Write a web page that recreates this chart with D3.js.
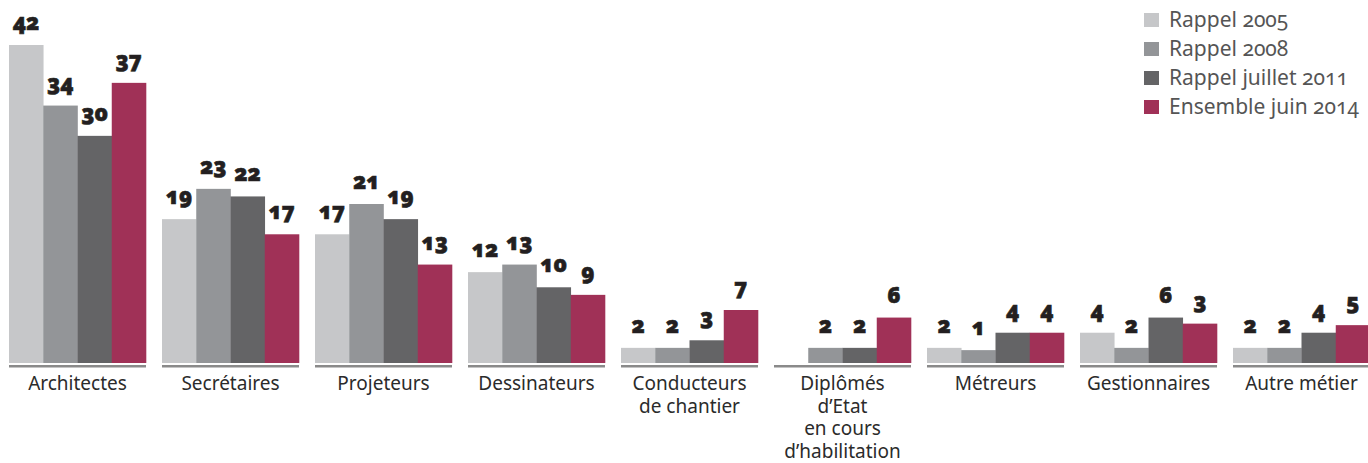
<!DOCTYPE html>
<html><head><meta charset="utf-8">
<script src="https://cdn.jsdelivr.net/npm/d3@7"></script>
<style>
html,body{margin:0;padding:0;background:#fff;}
svg{display:block;}
.val{font-family:"Noto Sans",Lato,sans-serif;font-weight:900;font-size:22px;fill:#231f20;font-variant-numeric:oldstyle-nums;stroke:#231f20;stroke-width:0.6px;}
.cat{font-family:"Noto Sans","Open Sans",sans-serif;font-size:19px;fill:#2b2b2b;}
.leg{font-family:"Noto Sans","Open Sans",sans-serif;font-size:21px;fill:#555;font-variant-numeric:oldstyle-nums;}
</style></head>
<body>
<svg id="c" width="1368" height="463"></svg>
<script>
const categories = [["Architectes"],["Secrétaires"],["Projeteurs"],["Dessinateurs"],["Conducteurs","de chantier"],["Diplômés","d’Etat","en cours","d’habilitation"],["Métreurs"],["Gestionnaires"],["Autre métier"]];
const seriesNames = ["Rappel 2005","Rappel 2008","Rappel juillet 2011","Ensemble juin 2014"];
const seriesColors = ["#c6c7c9","#939598","#646466","#a03157"];
// bar values as drawn
const rappel2005 = [42,19,17,12,2,null,2,4,2];
const rappel2008 = [34,23,21,13,2,2,1.7,2,2];
const rappel2011 = [30,22,19,10,3,2,4,6,4];
const ensemble2014 = [37,17,13,9,7,6,4,5.2,5];
// labels as printed
const labels2005 = ["42","19","17","12","2","","2","4","2"];
const labels2008 = ["34","23","21","13","2","2","1","2","2"];
const labels2011 = ["30","22","19","10","3","2","4","6","4"];
const labels2014 = ["37","17","13","9","7","6","4","3","5"];

const values = [rappel2005,rappel2008,rappel2011,ensemble2014];
const labels = [labels2005,labels2008,labels2011,labels2014];

const svg = d3.select("#c");
const catKeys = categories.map(c=>c.join(" "));
const x0 = d3.scaleBand().domain(catKeys).range([9,1370]).paddingInner(16/153).paddingOuter(0);
const x1 = d3.scaleBand().domain(d3.range(4)).range([0,x0.bandwidth()]).padding(0);
const y = d3.scaleLinear().domain([0,42]).range([363,45]);

const g = svg.selectAll("g.grp").data(catKeys).join("g").attr("class","grp")
  .attr("transform",d=>`translate(${x0(d)},0)`);

g.each(function(k,i){
  const sel = d3.select(this);
  for(let s=0;s<4;s++){
    const v = values[s][i];
    if(v==null) continue;
    sel.append("rect").attr("x",x1(s)).attr("width",x1.bandwidth()+0.3)
      .attr("y",y(v)).attr("height",y(0)-y(v)).attr("fill",seriesColors[s]);
    sel.append("text").attr("class","val").attr("x",x1(s)+x1.bandwidth()/2)
      .attr("y",y(v)-15).attr("text-anchor","middle").text(labels[s][i]);
  }
  sel.append("rect").attr("x",0).attr("width",x0.bandwidth()).attr("y",365).attr("height",2.5).attr("fill","#8a8a8a");
  const t = sel.append("text").attr("class","cat").attr("text-anchor","middle");
  categories[i].forEach((line,j)=>{
    t.append("tspan").attr("x",x0.bandwidth()/2).attr("y",390+j*22.5).text(line);
  });
});

const leg = svg.append("g").selectAll("g").data(seriesNames).join("g")
  .attr("transform",(d,i)=>`translate(1144,${13+i*29})`);
leg.append("rect").attr("width",15).attr("height",14).attr("fill",(d,i)=>seriesColors[i]);
leg.append("text").attr("class","leg").attr("x",25).attr("y",14).text(d=>d);
</script>
</body></html>
